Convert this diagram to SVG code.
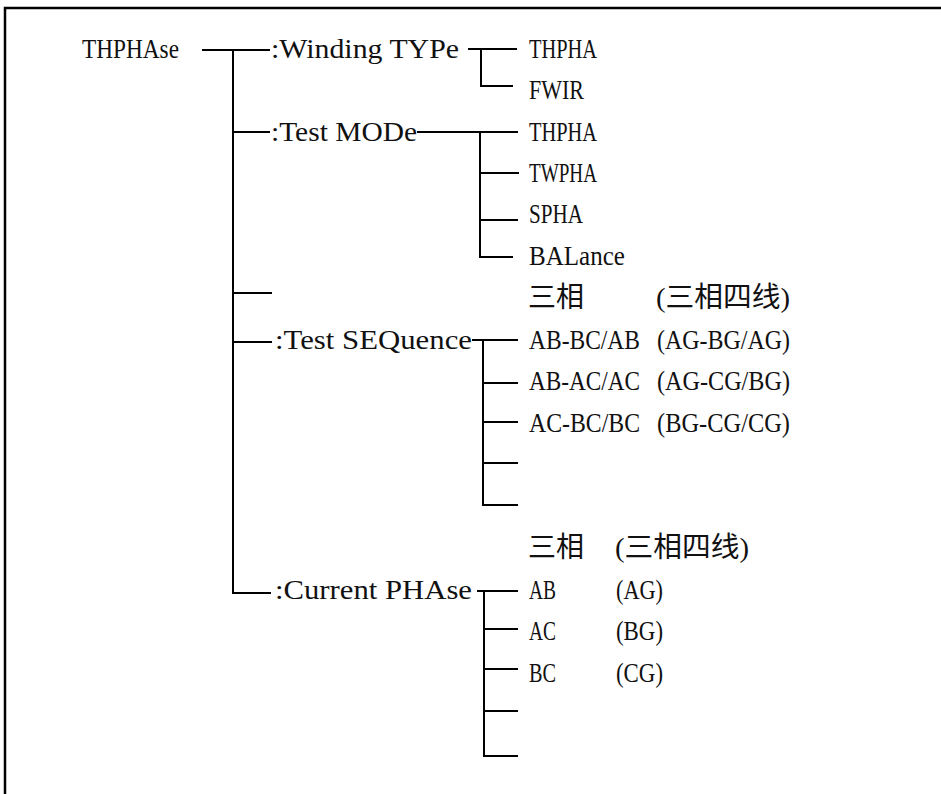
<svg xmlns="http://www.w3.org/2000/svg" width="941" height="794" viewBox="0 0 941 794">
<style>
text{font-family:"Liberation Serif","Noto Sans CJK SC",serif;font-size:28px;fill:#111}
.c{fill:none;stroke:#000;stroke-width:2}
.b{fill:none;stroke:#000;stroke-width:2.5}
</style>
<rect width="941" height="794" fill="#fff"/>
<path class="b" d="M5,794 V8 H941"/>
<g id="connectors">
<path class="c" d="M202,50 H270 M233,50 V593 H271 M233,132 H270 M233,293 H272 M233,342 H272"/>
<path class="c" d="M468,49 H517 M481,49 V86 H513"/>
<path class="c" d="M417,132 H518 M480,132 V257 H513 M480,173 H519 M480,220 H518"/>
<path class="c" d="M472,340 H518 M483,340 V505 H518 M483,383 H518 M483,422 H518 M483,463 H518"/>
<path class="c" d="M477,591 H518 M484,591 V756 H518 M484,629 H518 M484,669 H518 M484,711 H518"/>
</g>
<g id="root"><text x="82" y="58" textLength="97" lengthAdjust="spacingAndGlyphs">THPHAse</text></g>
<g id="winding"><text x="271" y="58" textLength="188" lengthAdjust="spacingAndGlyphs">:Winding TYPe</text></g>
<g id="testmode"><text x="271" y="141" textLength="146" lengthAdjust="spacingAndGlyphs">:Test MODe</text></g>
<g id="testseq"><text x="275" y="349" textLength="197" lengthAdjust="spacingAndGlyphs">:Test SEQuence</text></g>
<g id="curphase"><text x="275" y="599" textLength="197" lengthAdjust="spacingAndGlyphs">:Current PHAse</text></g>
<g id="w-thpha"><text x="529" y="58" textLength="68" lengthAdjust="spacingAndGlyphs">THPHA</text></g>
<g id="w-fwir"><text x="529" y="99" textLength="55" lengthAdjust="spacingAndGlyphs">FWIR</text></g>
<g id="m-thpha"><text x="529" y="141" textLength="68" lengthAdjust="spacingAndGlyphs">THPHA</text></g>
<g id="m-twpha"><text x="529" y="182" textLength="68" lengthAdjust="spacingAndGlyphs">TWPHA</text></g>
<g id="m-spha"><text x="529" y="223" textLength="54" lengthAdjust="spacingAndGlyphs">SPHA</text></g>
<g id="m-balance"><text x="529" y="265" textLength="96" lengthAdjust="spacingAndGlyphs">BALance</text></g>
<g id="s-head"><text x="528" y="307">三相</text><text x="656" y="307" textLength="134" lengthAdjust="spacingAndGlyphs">(三相四线)</text></g>
<g id="s-1"><text x="529" y="349" textLength="111" lengthAdjust="spacingAndGlyphs">AB-BC/AB</text><text x="657" y="349" textLength="133" lengthAdjust="spacingAndGlyphs">(AG-BG/AG)</text></g>
<g id="s-2"><text x="529" y="390" textLength="111" lengthAdjust="spacingAndGlyphs">AB-AC/AC</text><text x="657" y="390" textLength="133" lengthAdjust="spacingAndGlyphs">(AG-CG/BG)</text></g>
<g id="s-3"><text x="529" y="432" textLength="111" lengthAdjust="spacingAndGlyphs">AC-BC/BC</text><text x="657" y="432" textLength="133" lengthAdjust="spacingAndGlyphs">(BG-CG/CG)</text></g>
<g id="p-head"><text x="528" y="557">三相</text><text x="615" y="557" textLength="134" lengthAdjust="spacingAndGlyphs">(三相四线)</text></g>
<g id="p-1"><text x="529" y="599" textLength="27" lengthAdjust="spacingAndGlyphs">AB</text><text x="616" y="599" textLength="47" lengthAdjust="spacingAndGlyphs">(AG)</text></g>
<g id="p-2"><text x="529" y="640" textLength="27" lengthAdjust="spacingAndGlyphs">AC</text><text x="616" y="640" textLength="47" lengthAdjust="spacingAndGlyphs">(BG)</text></g>
<g id="p-3"><text x="529" y="682" textLength="27" lengthAdjust="spacingAndGlyphs">BC</text><text x="616" y="682" textLength="47" lengthAdjust="spacingAndGlyphs">(CG)</text></g>
</svg>
